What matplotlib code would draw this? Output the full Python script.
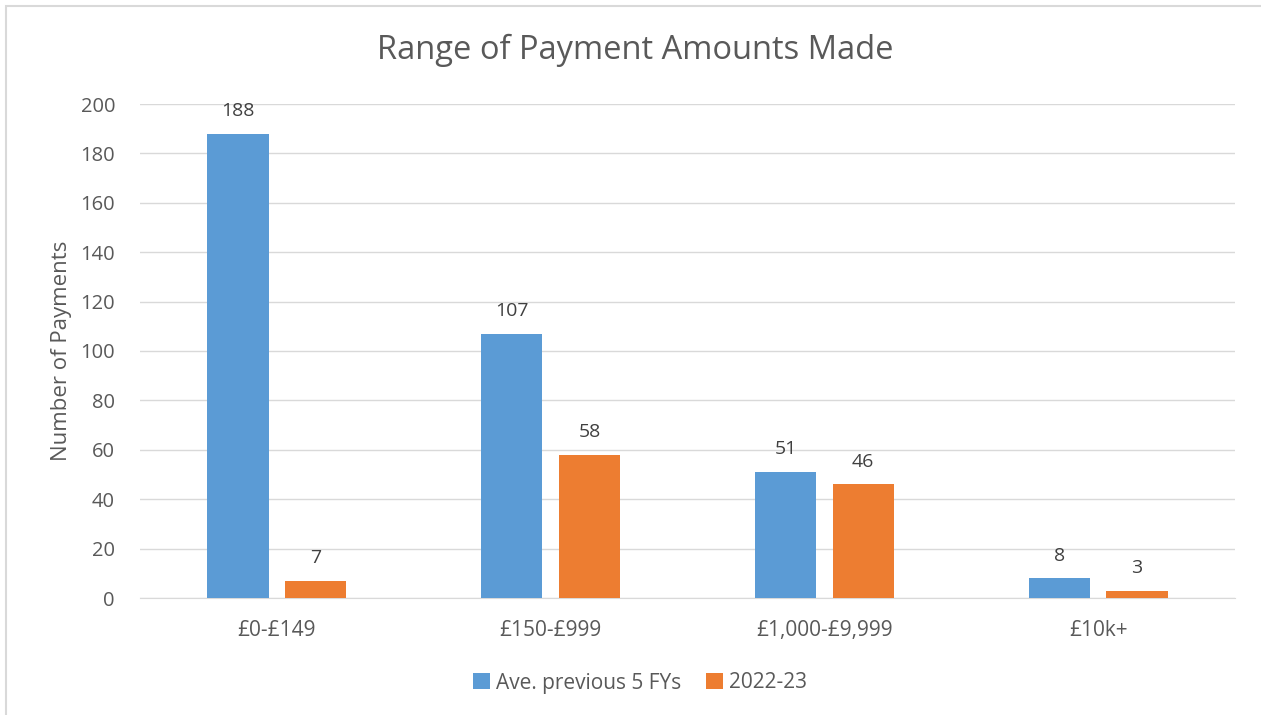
import numpy as np
import matplotlib.pyplot as plt
from matplotlib.patches import Rectangle

categories = ['£0-£149', '£150-£999', '£1,000-£9,999', '£10k+']
ave_prev = [188, 107, 51, 8]
fy_2223 = [7, 58, 46, 3]
series_names = ['Ave. previous 5 FYs', '2022-23']

blue = '#5B9BD5'
orange = '#ED7D31'
grey = '#595959'

plt.rcParams['font.family'] = ['Open Sans', 'DejaVu Sans']

fig = plt.figure(figsize=(12.61, 7.15), dpi=100)
ax = fig.add_axes([140 / 1261, 1 - 598 / 715, 1095 / 1261, 494 / 715])

# outer chart border
fig.patches.append(Rectangle((6 / 1261, -0.01), 1.1, 1 - 6 / 715 + 0.01,
                             transform=fig.transFigure, fill=False,
                             edgecolor='#D9D9D9', linewidth=1.5))

x = np.arange(len(categories))
w = 0.223
b1 = ax.bar(x - 0.142, ave_prev, w, color=blue, label=series_names[0], zorder=3)
b2 = ax.bar(x + 0.142, fy_2223, w, color=orange, label=series_names[1], zorder=3)

for bars in (b1, b2):
    for rect in bars:
        h = rect.get_height()
        ax.text(rect.get_x() + rect.get_width() / 2, h + 5.5, '%d' % h,
                ha='center', va='bottom', fontsize=14, color='#404040')

ax.set_xlim(-0.5, 3.5)
ax.set_ylim(0, 200)
ax.set_yticks(range(0, 201, 20))
ax.set_xticks(x)
ax.set_xticklabels(categories)
ax.grid(axis='y', color='#D9D9D9', linewidth=1, zorder=0)
for s in ['top', 'right', 'left']:
    ax.spines[s].set_visible(False)
ax.spines['bottom'].set_color('#D9D9D9')
ax.tick_params(axis='both', length=0, labelsize=14.5, colors=grey)
ax.tick_params(axis='x', labelsize=15, pad=16)
ax.tick_params(axis='y', pad=18)
ax.set_ylabel('Number of Payments', fontsize=16, color=grey, labelpad=6)

fig.text(635 / 1261, 1 - 50 / 715, 'Range of Payment Amounts Made',
         ha='center', va='center', fontsize=23.5, color=grey)

fig.legend(loc='center', bbox_to_anchor=(640 / 1261, 1 - 683 / 715), ncol=2,
           frameon=False, fontsize=15, labelcolor=grey, handlelength=0.8,
           handleheight=0.8, columnspacing=1.2, handletextpad=0.3)

fig.savefig('out.png', dpi=100)
